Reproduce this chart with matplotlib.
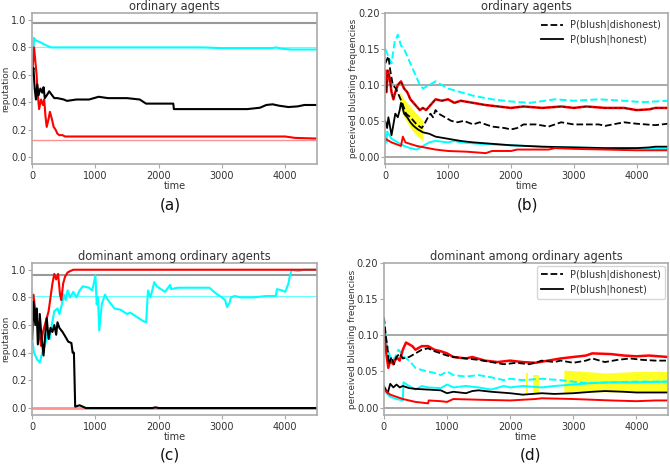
import numpy as np
import matplotlib
matplotlib.use("Agg")
import matplotlib.pyplot as plt

# ---------------- panel (a): reputation, ordinary agents ----------------
a_cyan_t = [0, 20, 30, 60, 120, 200, 300, 1000, 2700, 3000, 3800, 3850, 3950, 4100, 4500]
a_cyan_v = [0.65, 0.75, 0.87, 0.85, 0.84, 0.82, 0.80, 0.80, 0.80, 0.795, 0.795, 0.80, 0.79, 0.785, 0.785]
a_black_t = [0, 20, 40, 60, 80, 100, 130, 160, 180, 200, 230, 270, 300, 350, 400, 500, 550, 700, 900,
             1050, 1200, 1500, 1700, 1800, 2230, 2240, 3400, 3600, 3700, 3800, 3900, 4050, 4200, 4300, 4500]
a_black_v = [0.60, 0.65, 0.50, 0.42, 0.53, 0.45, 0.50, 0.47, 0.51, 0.43, 0.45, 0.48, 0.46, 0.43, 0.43,
             0.42, 0.41, 0.42, 0.42, 0.44, 0.43, 0.43, 0.42, 0.39, 0.39, 0.35, 0.35, 0.36, 0.38, 0.385,
             0.375, 0.365, 0.37, 0.38, 0.38]
a_red_t = [0, 30, 50, 70, 90, 110, 140, 170, 190, 210, 230, 260, 280, 310, 340, 370, 400, 430, 480,
           520, 4000, 4150, 4500]
a_red_v = [0.60, 0.80, 0.70, 0.60, 0.45, 0.35, 0.42, 0.38, 0.42, 0.30, 0.22, 0.28, 0.33, 0.28, 0.22,
           0.20, 0.17, 0.16, 0.16, 0.15, 0.15, 0.14, 0.135]
a_ref = {"grey": 0.975, "cyan": 0.80, "red": 0.125}

# ---------------- panel (b): blushing frequencies, ordinary agents ----------------
b_cyan_d_t = [0, 50, 100, 150, 200, 250, 300, 350, 400, 450, 500, 550, 600, 700, 800, 900, 1000, 1200,
              1400, 1700, 2000, 2300, 2700, 3000, 3400, 3800, 4100, 4500]
b_cyan_d_v = [0.15, 0.14, 0.13, 0.16, 0.17, 0.155, 0.15, 0.14, 0.13, 0.12, 0.11, 0.10, 0.095, 0.10,
              0.105, 0.10, 0.095, 0.09, 0.085, 0.08, 0.077, 0.075, 0.08, 0.078, 0.08, 0.078, 0.076, 0.078]
b_red_d_t = [0, 20, 40, 70, 100, 130, 160, 200, 250, 300, 350, 400, 450, 500, 550, 600, 650, 700, 800,
             900, 1000, 1100, 1200, 1400, 1600, 1800, 2000, 2200, 2500, 2800, 3000, 3200, 3500, 3800,
             4000, 4200, 4300, 4500]
b_red_d_v = [0.12, 0.09, 0.12, 0.11, 0.09, 0.08, 0.09, 0.10, 0.105, 0.095, 0.09, 0.08, 0.075, 0.07,
             0.065, 0.068, 0.065, 0.07, 0.08, 0.078, 0.08, 0.075, 0.078, 0.075, 0.072, 0.07, 0.068, 0.07,
             0.068, 0.07, 0.068, 0.07, 0.068, 0.068, 0.065, 0.066, 0.068, 0.068]
b_black_d_t = [0, 50, 80, 120, 170, 220, 270, 330, 400, 500, 580, 620, 680, 720, 760, 800, 850, 950,
               1050, 1150, 1250, 1400, 1500, 1700, 1900, 2000, 2100, 2200, 2400, 2600, 2800, 3000, 3400,
               3500, 3800, 4000, 4300, 4500]
b_black_d_v = [0.13, 0.14, 0.12, 0.10, 0.095, 0.085, 0.075, 0.06, 0.055, 0.045, 0.04, 0.045, 0.055,
               0.06, 0.055, 0.065, 0.06, 0.055, 0.05, 0.048, 0.05, 0.045, 0.048, 0.042, 0.04, 0.038, 0.04,
               0.045, 0.045, 0.042, 0.048, 0.045, 0.045, 0.043, 0.048, 0.046, 0.044, 0.046]
b_black_s_t = [0, 30, 50, 80, 100, 130, 160, 200, 230, 250, 270, 300, 350, 400, 450, 520, 600, 700, 800,
               1000, 1200, 1400, 1700, 2000, 2500, 3000, 3500, 4000, 4200, 4300, 4500]
b_black_s_v = [0.05, 0.04, 0.055, 0.04, 0.03, 0.045, 0.06, 0.055, 0.065, 0.075, 0.07, 0.06, 0.055,
               0.048, 0.043, 0.038, 0.034, 0.032, 0.028, 0.025, 0.022, 0.02, 0.018, 0.016, 0.014, 0.013,
               0.012, 0.012, 0.013, 0.014, 0.014]
b_cyan_s_t = [0, 20, 30, 100, 200, 300, 400, 500, 600, 700, 800, 1000, 1100, 1200, 1500, 2000, 2500,
              3000, 3500, 4000, 4500]
b_cyan_s_v = [0.03, 0.02, 0.035, 0.025, 0.02, 0.015, 0.012, 0.010, 0.015, 0.02, 0.022, 0.02, 0.022,
              0.02, 0.018, 0.016, 0.014, 0.013, 0.012, 0.012, 0.011]
b_red_s_t = [0, 100, 250, 280, 320, 500, 800, 1000, 1300, 1600, 1700, 2000, 2100, 2600, 2700, 3000,
             3500, 4000, 4500]
b_red_s_v = [0.025, 0.02, 0.015, 0.028, 0.02, 0.015, 0.01, 0.008, 0.007, 0.005, 0.008, 0.008, 0.01,
             0.01, 0.012, 0.011, 0.01, 0.009, 0.009]
b_band_t = [230, 300, 400, 500, 600]
b_band_lo = [0.07, 0.055, 0.04, 0.03, 0.022]
b_band_hi = [0.09, 0.08, 0.07, 0.06, 0.05]
b_ref = [0.10, 0.0]

# ---------------- panel (c): reputation, dominant agent ----------------
c_red_t = [0, 20, 50, 80, 110, 140, 170, 200, 230, 260, 290, 320, 350, 380, 410, 440, 460, 490, 520,
           560, 600, 650, 4500]
c_red_v = [0.80, 0.82, 0.70, 0.60, 0.55, 0.45, 0.55, 0.60, 0.65, 0.70, 0.80, 0.90, 0.97, 0.93, 0.97,
           0.82, 0.78, 0.90, 0.95, 0.98, 0.99, 1.0, 1.0]
c_cyan_t = [0, 30, 80, 120, 160, 200, 250, 280, 310, 350, 400, 430, 470, 500, 530, 560, 600, 650, 700,
            750, 800, 900, 950, 1000, 1020, 1040, 1060, 1100, 1150, 1200, 1300, 1400, 1500, 1550, 1650,
            1750, 1800, 1810, 1830, 1870, 1930, 1970, 2100, 2180, 2200, 2300, 2800, 2900, 3000, 3050,
            3080, 3120, 3140, 3200, 3300, 3500, 3700, 3850, 3870, 3950, 4000, 4050, 4070, 4100, 4200,
            4300, 4500]
c_cyan_v = [0.50, 0.40, 0.35, 0.33, 0.40, 0.45, 0.55, 0.50, 0.60, 0.70, 0.72, 0.68, 0.75, 0.82, 0.78,
            0.85, 0.80, 0.84, 0.80, 0.85, 0.88, 0.87, 0.85, 0.96, 0.75, 0.80, 0.56, 0.75, 0.82, 0.78,
            0.72, 0.71, 0.68, 0.69, 0.66, 0.63, 0.62, 0.68, 0.85, 0.80, 0.91, 0.88, 0.84, 0.89, 0.86,
            0.87, 0.87, 0.83, 0.80, 0.78, 0.73, 0.76, 0.80, 0.81, 0.80, 0.80, 0.81, 0.81, 0.86, 0.85,
            0.84, 0.90, 0.95, 1.0, 0.99, 1.0, 1.0]
c_black_t = [0, 20, 50, 70, 90, 120, 150, 180, 210, 230, 260, 290, 320, 350, 380, 400, 430, 480, 520,
             570, 620, 640, 660, 680, 750, 800, 850, 1900, 1950, 2000, 4500]
c_black_v = [0.50, 0.77, 0.60, 0.72, 0.46, 0.68, 0.50, 0.38, 0.55, 0.65, 0.50, 0.58, 0.55, 0.60, 0.53,
             0.62, 0.58, 0.55, 0.52, 0.48, 0.47, 0.40, 0.40, 0.01, 0.02, 0.01, 0.0, 0.0, 0.005, 0.0, 0.0]
c_ref = {"grey": 0.96, "cyan": 0.81, "red": 0.0}

# ---------------- panel (d): blushing frequencies, dominant agent ----------------
d_red_d_t = [0, 30, 70, 100, 150, 200, 250, 300, 350, 450, 500, 600, 700, 800, 900, 1000, 1100, 1300,
             1400, 1600, 1800, 2000, 2200, 2400, 2600, 2800, 3000, 3200, 3300, 3600, 3800, 4000, 4200,
             4500]
d_red_d_v = [0.11, 0.08, 0.055, 0.065, 0.06, 0.07, 0.065, 0.08, 0.09, 0.085, 0.08, 0.085, 0.085, 0.08,
             0.078, 0.075, 0.07, 0.068, 0.07, 0.065, 0.063, 0.065, 0.063, 0.062, 0.065, 0.068, 0.07,
             0.072, 0.075, 0.074, 0.072, 0.071, 0.072, 0.07]
d_black_d_t = [0, 30, 60, 80, 120, 160, 200, 250, 300, 400, 500, 600, 700, 800, 900, 1000, 1100, 1300,
               1500, 1700, 1900, 2100, 2300, 2400, 2500, 2700, 2800, 3000, 3200, 3300, 3500, 3700, 3900,
               4100, 4300, 4500]
d_black_d_v = [0.125, 0.10, 0.08, 0.06, 0.07, 0.06, 0.07, 0.075, 0.068, 0.07, 0.075, 0.08, 0.082,
               0.078, 0.075, 0.072, 0.07, 0.068, 0.066, 0.063, 0.06, 0.062, 0.06, 0.062, 0.065, 0.063,
               0.065, 0.062, 0.065, 0.068, 0.063, 0.066, 0.068, 0.066, 0.065, 0.065]
d_cyan_d_t = [0, 40, 80, 130, 180, 230, 280, 320, 400, 450, 500, 600, 700, 800, 900, 1000, 1100, 1300,
              1500, 1700, 1900, 2000, 2200, 2500, 2800, 3000, 3200, 3600, 4000, 4500]
d_cyan_d_v = [0.12, 0.09, 0.075, 0.065, 0.07, 0.08, 0.075, 0.07, 0.065, 0.06, 0.055, 0.052, 0.05,
              0.048, 0.045, 0.05, 0.045, 0.043, 0.045, 0.042, 0.038, 0.04, 0.038, 0.04, 0.038, 0.036,
              0.034, 0.035, 0.036, 0.036]
d_cyan_s_t = [0, 40, 100, 200, 300, 310, 400, 500, 600, 700, 900, 1000, 1100, 1300, 1500, 1700, 1900,
              2000, 2200, 2500, 2700, 3000, 3300, 3600, 4000, 4500]
d_cyan_s_v = [0.028, 0.02, 0.015, 0.012, 0.01, 0.035, 0.03, 0.025, 0.03, 0.028, 0.027, 0.032, 0.028,
              0.03, 0.028, 0.025, 0.03, 0.028, 0.03, 0.028, 0.03, 0.032, 0.034, 0.035, 0.035, 0.036]
d_black_s_t = [0, 60, 100, 150, 200, 250, 300, 400, 500, 700, 900, 1000, 1100, 1300, 1400, 1500, 1700,
               2000, 2200, 2500, 2700, 3000, 3300, 3500, 3800, 4000, 4500]
d_black_s_v = [0.03, 0.02, 0.033, 0.028, 0.032, 0.028, 0.03, 0.027, 0.026, 0.025, 0.024, 0.02, 0.022,
               0.02, 0.023, 0.024, 0.022, 0.02, 0.018, 0.02, 0.019, 0.02, 0.022, 0.023, 0.022, 0.021,
               0.021]
d_red_s_t = [0, 100, 300, 500, 700, 710, 900, 1000, 1100, 1500, 2000, 2400, 2500, 3000, 3300, 3600,
             4000, 4300, 4500]
d_red_s_v = [0.025, 0.018, 0.012, 0.008, 0.006, 0.01, 0.009, 0.008, 0.012, 0.011, 0.01, 0.012, 0.013,
             0.012, 0.011, 0.01, 0.009, 0.01, 0.01]
d_band_t = [2850, 3200, 3500, 4000, 4500]
d_band_lo = [0.02, 0.022, 0.022, 0.022, 0.022]
d_band_hi = [0.052, 0.05, 0.048, 0.05, 0.05]
d_bars = [(2250, 2280, 0.02, 0.048), (2360, 2390, 0.02, 0.045), (2400, 2450, 0.02, 0.045)]
d_ref = [0.10, 0.0]

titles = ["ordinary agents", "ordinary agents",
          "dominant among ordinary agents", "dominant among ordinary agents"]
panel_labels = ["(a)", "(b)", "(c)", "(d)"]

SPINE = "#aaaaaa"
TXT = "#333333"
CYAN = "#00ffff"
RED = "#ff0000"


def style_axes(ax, title, ylabel, ylabel_x):
    for s in ax.spines.values():
        s.set_color(SPINE)
        s.set_linewidth(1.2)
    ax.tick_params(colors=TXT, labelsize=7, length=3, width=0.8, pad=2)
    ax.tick_params(axis="y", pad=1)
    ax.tick_params(axis="both", color=SPINE)
    ax.set_title(title, fontsize=8.3, color=TXT, pad=2)
    ax.set_xlabel("time", fontsize=7, color=TXT, labelpad=0)
    ax.set_ylabel(ylabel, fontsize=6.4, color=TXT)
    ax.yaxis.set_label_coords(ylabel_x, 0.5)
    ax.set_xlim(0, 4500)
    ax.set_xticks([0, 1000, 2000, 3000, 4000])


def reputation_panel(ax, ref, cyan, black, red, title):
    ax.axhline(ref["grey"], color="#999999", lw=1.5)
    ax.axhline(ref["cyan"], color=CYAN, lw=0.8, alpha=0.6)
    ax.axhline(ref["red"], color="#ff9090", lw=1.0 if ref["red"] > 0 else 2.0)
    ax.plot(*cyan, color=CYAN, lw=1.5)
    ax.plot(*red, color=RED, lw=1.5)
    ax.plot(*black, color="black", lw=1.5)
    ax.set_ylim(-0.05, 1.05)
    ax.set_yticks([0.0, 0.2, 0.4, 0.6, 0.8, 1.0])
    style_axes(ax, title, "reputation", -0.076)


def blush_panel(ax, ref, title, legend_frame):
    for y in ref:
        ax.axhline(y, color="#999999", lw=1.2)
    ax.set_ylim(-0.01, 0.2)
    ax.set_yticks([0.0, 0.05, 0.1, 0.15, 0.2])
    ax.set_yticklabels(["0.00", "0.05", "0.10", "0.15", "0.20"])
    style_axes(ax, title, "perceived blushing frequencies", -0.095)
    h1, = ax.plot([], [], color="black", ls="--", lw=1.3, label="P(blush|dishonest)")
    h2, = ax.plot([], [], color="black", ls="-", lw=1.3, label="P(blush|honest)")
    leg = ax.legend(handles=[h1, h2], loc="upper right", fontsize=7, frameon=legend_frame,
                    handlelength=2.2, borderaxespad=0.3, labelspacing=0.45)
    for t in leg.get_texts():
        t.set_color(TXT)
    if legend_frame:
        leg.get_frame().set_edgecolor("#cccccc")


fig = plt.figure(figsize=(6.7, 4.71), dpi=100)
ax_a = fig.add_axes([0.048, 0.652, 0.425, 0.320])
ax_b = fig.add_axes([0.575, 0.652, 0.422, 0.320])
ax_c = fig.add_axes([0.048, 0.119, 0.425, 0.323])
ax_d = fig.add_axes([0.573, 0.119, 0.424, 0.323])

reputation_panel(ax_a, a_ref, (a_cyan_t, a_cyan_v), (a_black_t, a_black_v), (a_red_t, a_red_v), titles[0])
reputation_panel(ax_c, c_ref, (c_cyan_t, c_cyan_v), (c_black_t, c_black_v), (c_red_t, c_red_v), titles[2])

# panel (b)
blush_panel(ax_b, b_ref, titles[1], False)
ax_b.fill_between(b_band_t, b_band_lo, b_band_hi, color="#ffff00", alpha=0.85, lw=0, zorder=1)
ax_b.plot(b_cyan_d_t, b_cyan_d_v, color=CYAN, ls="--", lw=1.4)
ax_b.plot(b_red_d_t, b_red_d_v, color=RED, lw=1.8)
ax_b.plot(b_red_d_t, b_red_d_v, color="#550000", ls="--", lw=0.7)
ax_b.plot(b_black_d_t, b_black_d_v, color="black", ls="--", lw=1.3)
ax_b.plot(b_cyan_s_t, b_cyan_s_v, color=CYAN, lw=1.4)
ax_b.plot(b_black_s_t, b_black_s_v, color="black", lw=1.3)
ax_b.plot(b_red_s_t, b_red_s_v, color=RED, lw=1.4)

# panel (d)
blush_panel(ax_d, d_ref, titles[3], True)
ax_d.fill_between(d_band_t, d_band_lo, d_band_hi, color="#ffff00", alpha=0.85, lw=0, zorder=1)
for x0, x1, lo, hi in d_bars:
    ax_d.fill_between([x0, x1], [lo, lo], [hi, hi], color="#ffff00", alpha=0.85, lw=0, zorder=1)
ax_d.plot(d_cyan_d_t, d_cyan_d_v, color=CYAN, ls="--", lw=1.4)
ax_d.plot(d_red_d_t, d_red_d_v, color=RED, lw=1.8)
ax_d.plot(d_black_d_t, d_black_d_v, color="black", ls="--", lw=1.3)
ax_d.plot(d_cyan_s_t, d_cyan_s_v, color=CYAN, lw=1.4)
ax_d.plot(d_black_s_t, d_black_s_v, color="black", lw=1.3)
ax_d.plot(d_red_s_t, d_red_s_v, color=RED, lw=1.4)

# sub-figure labels
for (x, y), lab in zip([(0.254, 0.548), (0.787, 0.548), (0.254, 0.018), (0.792, 0.018)], panel_labels):
    fig.text(x, y, lab, fontsize=11, ha="center", va="bottom", color="#111111")

fig.savefig("out.png", dpi=100)
